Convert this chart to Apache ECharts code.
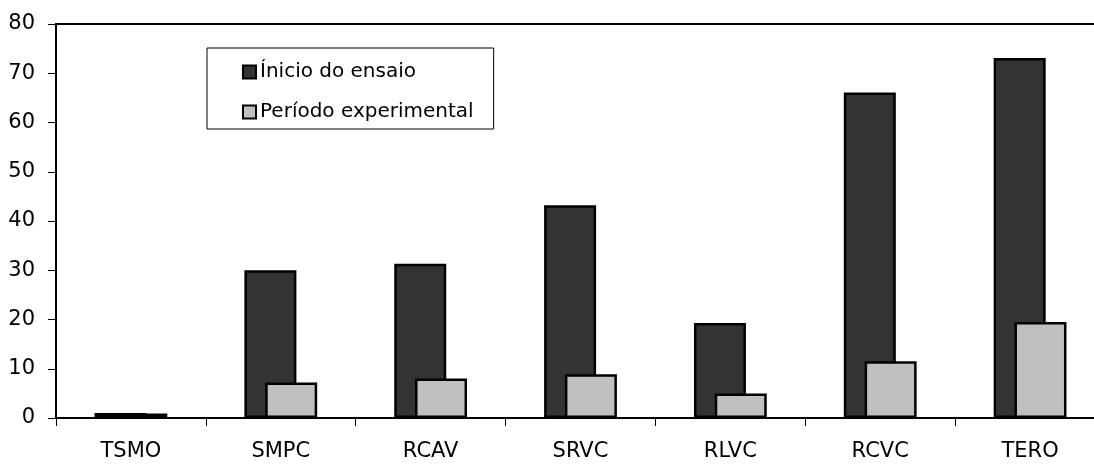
<!DOCTYPE html>
<html>
<head>
<meta charset="utf-8">
<script src="https://cdn.jsdelivr.net/npm/echarts@6/dist/echarts.min.js"></script>
<style>
  html, body { margin: 0; padding: 0; background: #fff; }
  #chart { width: 1094px; height: 464px; }
</style>
</head>
<body>
<div id="chart"></div>
<script>
// Categories along the x axis
const categories = ['TSMO', 'SMPC', 'RCAV', 'SRVC', 'RLVC', 'RCVC', 'TERO'];
// Series names shown in the legend
const seriesNames = ['Ínicio do ensaio', 'Período experimental'];
// Values at the start of the trial
const inicioValues = [1.0, 30.0, 31.3, 43.2, 19.3, 66.1, 73.1];
// Values during the experimental period
const periodoValues = [0.9, 7.2, 8.0, 8.9, 5.0, 11.5, 19.5];
// Y axis range
const yMin = 0, yMax = 80, yStep = 10;

const font = 'DejaVu Sans';
const chart = echarts.init(document.getElementById('chart'), null, { renderer: 'canvas' });

chart.setOption({
  animation: false,
  backgroundColor: '#ffffff',
  textStyle: { fontFamily: font },
  grid: {
    left: 56, top: 24, bottom: 46, right: -11,
    show: true, borderColor: '#000', borderWidth: 2,
    containLabel: false, outerBoundsMode: 'none'
  },
  legend: {
    orient: 'vertical',
    left: 207, top: 48,
    padding: [14, 20, 7, 35],
    borderColor: '#000', borderWidth: 1,
    backgroundColor: '#fff',
    itemWidth: 13, itemHeight: 13, itemGap: 20,
    icon: 'rect',
    textStyle: { fontFamily: font, fontSize: 20, color: '#000', padding: [0, 0, 0, -1] },
    data: seriesNames
  },
  xAxis: {
    type: 'category',
    data: categories,
    axisLine: { lineStyle: { color: '#000', width: 2 } },
    axisTick: { show: true, length: 8, lineStyle: { color: '#000', width: 1 } },
    axisLabel: { color: '#000', fontFamily: font, fontSize: 21, margin: 23 },
    splitLine: { show: false }
  },
  yAxis: {
    type: 'value',
    min: yMin, max: yMax, interval: yStep,
    axisLine: { show: true, lineStyle: { color: '#000', width: 2 } },
    axisTick: { show: true, length: 8, lineStyle: { color: '#000', width: 1 } },
    axisLabel: { color: '#000', fontFamily: font, fontSize: 21, margin: 21 },
    splitLine: { show: false }
  },
  series: [
    {
      name: seriesNames[0],
      type: 'bar',
      data: inicioValues,
      barWidth: 52,
      barGap: '-60%',
      itemStyle: { color: '#333333', borderColor: '#000', borderWidth: 2.5 }
    },
    {
      name: seriesNames[1],
      type: 'bar',
      data: periodoValues,
      barWidth: 52,
      barGap: '-60%',
      itemStyle: { color: '#c0c0c0', borderColor: '#000', borderWidth: 2.5 }
    }
  ]
});
</script>
</body>
</html>
